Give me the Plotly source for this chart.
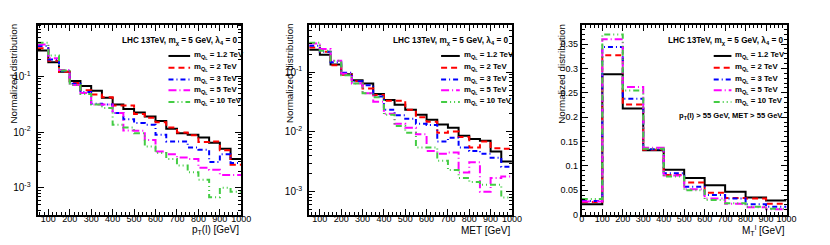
import plotly.graph_objects as go

# The page body has an 8px default margin: the figure is drawn 8px right/down,
# so layout positions below are given in window pixels and shifted by OFF.
OFF = 8
W, H = 830 - OFF, 245 - OFF

# ---------------- data ----------------
labels = ["1.2 TeV", "2 TeV", "3 TeV", "5 TeV", "10 TeV"]

pt_edges = [50, 100, 150, 200, 250, 300, 350, 400, 450, 500, 550, 600, 650, 700, 750, 800, 850, 900, 950, 1000]
pt_m12 = [0.288, 0.178, 0.120, 0.082, 0.067, 0.055, 0.041, 0.031, 0.026, 0.0223, 0.019, 0.0158, 0.0115, 0.0095, 0.0089, 0.0080, 0.0064, 0.0050, 0.0033]
pt_m2 = [0.316, 0.190, 0.120, 0.076, 0.056, 0.047, 0.042, 0.030, 0.030, 0.021, 0.018, 0.015, 0.012, 0.0098, 0.0088, 0.0066, 0.0068, 0.0047, 0.0026]
pt_m3 = [0.350, 0.200, 0.125, 0.073, 0.052, 0.032, 0.031, 0.022, 0.017, 0.0145, 0.0135, 0.0089, 0.0068, 0.0068, 0.0053, 0.0048, 0.0029, 0.0040, 0.0028]
pt_m5 = [0.370, 0.210, 0.130, 0.070, 0.050, 0.031, 0.031, 0.022, 0.0107, 0.0105, 0.0072, 0.0045, 0.0040, 0.0035, 0.0033, 0.0023, 0.0021, 0.0017, 0.0017]
pt_m10 = [0.400, 0.235, 0.127, 0.070, 0.048, 0.031, 0.027, 0.0135, 0.012, 0.0095, 0.0055, 0.0042, 0.0033, 0.0025, 0.0019, 0.0014, 0.00068, 0.0010, 0.00085]

met_edges = pt_edges
met_m12 = [0.236, 0.195, 0.134, 0.0916, 0.073, 0.0645, 0.043, 0.0342, 0.0283, 0.0234, 0.0194, 0.016, 0.0133, 0.0117, 0.0086, 0.0076, 0.0071, 0.0047, 0.0032]
met_m2 = [0.258, 0.218, 0.130, 0.090, 0.070, 0.053, 0.0414, 0.033, 0.033, 0.0234, 0.0175, 0.0147, 0.0097, 0.0101, 0.0082, 0.0055, 0.0069, 0.0053, 0.0052]
met_m3 = [0.275, 0.218, 0.146, 0.097, 0.070, 0.060, 0.039, 0.0234, 0.019, 0.0166, 0.0136, 0.013, 0.0069, 0.008, 0.0055, 0.0048, 0.0043, 0.0037, 0.0026]
met_m5 = [0.300, 0.242, 0.155, 0.094, 0.064, 0.044, 0.032, 0.020, 0.0136, 0.0117, 0.0091, 0.0048, 0.0043, 0.0045, 0.0021, 0.0031, 0.0010, 0.0017, 0.0018]
met_m10 = [0.310, 0.227, 0.155, 0.088, 0.064, 0.044, 0.038, 0.0194, 0.0125, 0.0097, 0.0055, 0.0055, 0.0033, 0.0023, 0.0017, 0.00145, 0.0013, 0.0013, 0.0008]

mt_edges = [0, 100, 200, 300, 400, 500, 600, 700, 800, 900, 1000]
mt_m12 = [0.021, 0.288, 0.218, 0.132, 0.092, 0.075, 0.060, 0.047, 0.035, 0.029]
mt_m2 = [0.026, 0.327, 0.226, 0.133, 0.081, 0.066, 0.045, 0.034, 0.033, 0.022]
mt_m3 = [0.028, 0.344, 0.238, 0.134, 0.085, 0.057, 0.040, 0.033, 0.021, 0.016]
mt_m5 = [0.027, 0.360, 0.262, 0.137, 0.080, 0.052, 0.033, 0.022, 0.015, 0.011]
mt_m10 = [0.032, 0.370, 0.255, 0.135, 0.078, 0.050, 0.030, 0.023, 0.016, 0.012]

log_major = [1e-3, 1e-2, 1e-1]
log_major_text = ["10<sup>-3</sup>", "10<sup>-2</sup>", "10<sup>-1</sup>"]
mt_yticks = [0, 0.05, 0.1, 0.15, 0.2, 0.25, 0.3, 0.35]
mt_yticktext = ["0", "0.05", "0.1", "0.15", "0.2", "0.25", "0.3", "0.35"]

# ---------------- style ----------------
colors = ["#000000", "#ff0000", "#0000ff", "#ff00ff", "#44cc44"]
dashes = ["solid", "6px,4px", "5px,3px,1px,3px", "8px,3px,1px,3px", "6px,3px,1px,3px,1px,3px"]
FONT = "Liberation Sans, Arial, sans-serif"

def px(x):
    return (x - OFF) / W

def py(y):
    return 1 - (y - OFF) / H

fig = go.Figure()

panels = [
    (pt_edges, [pt_m12, pt_m2, pt_m3, pt_m5, pt_m10], "x", "y"),
    (met_edges, [met_m12, met_m2, met_m3, met_m5, met_m10], "x2", "y2"),
    (mt_edges, [mt_m12, mt_m2, mt_m3, mt_m5, mt_m10], "x3", "y3"),
]
for edges, series, xa, ya in panels:
    for i, vals in enumerate(series):
        fig.add_trace(go.Scatter(
            x=edges, y=list(vals) + [vals[-1]], mode="lines",
            line=dict(shape="hv", color=colors[i], dash=dashes[i], width=2),
            xaxis=xa, yaxis=ya, showlegend=False, hoverinfo="skip"))

ydom = [py(219), py(25)]
xdoms = [[px(35), px(242)], [px(311), px(517)], [px(588), px(796)]]

common_axis = dict(showline=True, linecolor="black", linewidth=2, mirror="allticks",
                   ticks="inside", ticklen=6, tickwidth=1, tickcolor="black",
                   showgrid=False, zeroline=False,
                   tickfont=dict(family=FONT, size=9, color="black"))

log_minor_vals = [m * 10 ** e for e in (-4, -3, -2, -1) for m in range(2, 10)]

layout = dict(
    width=W, height=H, margin=dict(l=0, r=0, t=0, b=0),
    paper_bgcolor="white", plot_bgcolor="white", showlegend=False,
)
for k, dom in enumerate(xdoms):
    sfx = "" if k == 0 else str(k + 1)
    xr = [50, 1000] if k < 2 else [0, 1000]
    layout["xaxis" + sfx] = dict(common_axis, domain=dom, range=xr, anchor="y" + sfx,
                                 tickmode="array", tickvals=[t for t in range(0 if k == 2 else 100, 1001, 100)],
                                 tickangle=0,
                                 minor=dict(ticks="inside", ticklen=3, dtick=20, tick0=0, tickcolor="black", showgrid=False),
                                 ticklabelstandoff=-5)
    if k < 2:
        yr = [-3.479, -0.075] if k == 0 else [-3.382, -0.208]
        layout["yaxis" + sfx] = dict(common_axis, domain=ydom, type="log", range=yr, anchor="x" + sfx,
                                     tickmode="array", tickvals=log_major, ticktext=log_major_text,
                                     tickfont=dict(family=FONT, size=10, color="black"),
                                     minor=dict(ticks="inside", ticklen=3, tickmode="array", tickvals=log_minor_vals,
                                                tickcolor="black", showgrid=False),
                                     ticklabelstandoff=3)
    else:
        layout["yaxis" + sfx] = dict(common_axis, domain=ydom, range=[0, 0.39], anchor="x" + sfx,
                                     tickmode="array", tickvals=mt_yticks, ticktext=mt_yticktext,
                                     minor=dict(ticks="inside", ticklen=3, dtick=0.01, tick0=0, tickcolor="black", showgrid=False),
                                     ticklabelstandoff=0)

fig.update_layout(**layout)

annotations = []
shapes = []

header = "LHC 13TeV, m<sub>χ</sub> = 5 GeV, λ<sub>4</sub> = 0"
legend_cfg = [
    # header right x, line x0, x1, text x
    (240, 168, 190, 192),
    (515, 445, 464, 466),
    (794, 722, 740, 742),
]
rows = [57, 69, 81, 92, 104]
for k, (hx, lx0, lx1, tx) in enumerate(legend_cfg):
    annotations.append(dict(x=px(hx), y=py(42), xref="paper", yref="paper", text="<b>" + header + "</b>",
                            showarrow=False, xanchor="right", yanchor="middle",
                            font=dict(family=FONT, size=8.2, color="black")))
    for i, lab in enumerate(labels):
        yy = py(rows[i])
        shapes.append(dict(type="line", xref="paper", yref="paper", x0=px(lx0), x1=px(lx1), y0=yy, y1=yy,
                           line=dict(color=colors[i], dash=dashes[i], width=2)))
        annotations.append(dict(x=px(tx), y=yy, xref="paper", yref="paper",
                                text="<b>m<sub>Q<sub>L</sub></sub> = " + lab + "</b>",
                                showarrow=False, xanchor="left", yanchor="middle",
                                font=dict(family=FONT, size=7.8, color="black")))

annotations.append(dict(x=px(794), y=py(118), xref="paper", yref="paper",
                        text="<b>p<sub>T</sub>(l) > 55 GeV, MET > 55 GeV</b>",
                        showarrow=False, xanchor="right", yanchor="middle",
                        font=dict(family=FONT, size=7.6, color="black")))

# axis titles
for xpos in (11, 291, 567):
    annotations.append(dict(x=px(xpos), y=py(75), xref="paper", yref="paper", text="Normalized distribution",
                            showarrow=False, textangle=-90, xanchor="center", yanchor="middle",
                            font=dict(family=FONT, size=9.8, color="black")))
xtitles = [(242, "p<sub>T</sub>(l) [GeV]"), (517, "MET [GeV]"), (796, "M<sub>T</sub><sup>l</sup> [GeV]")]
for xpos, t in xtitles:
    annotations.append(dict(x=px(xpos), y=py(235), xref="paper", yref="paper", text=t,
                            showarrow=False, xanchor="right", yanchor="middle",
                            font=dict(family=FONT, size=10, color="black")))

fig.update_layout(annotations=annotations, shapes=shapes)
fig.write_html("out.html")
